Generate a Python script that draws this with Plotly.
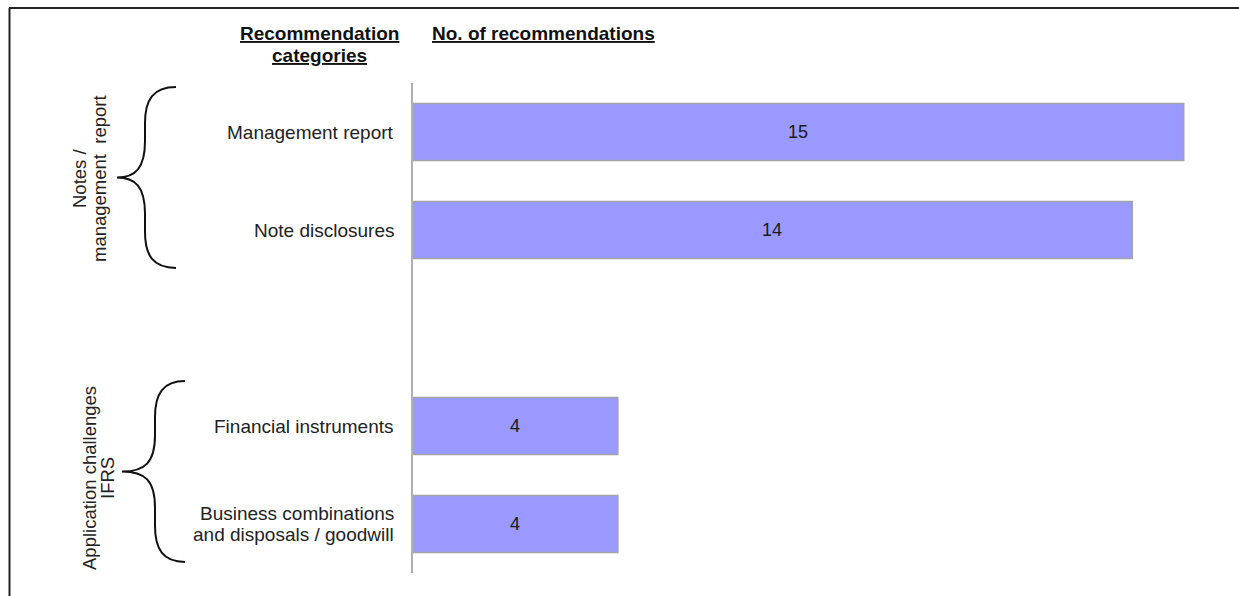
import plotly.graph_objects as go

# Recommendation categories, grouped by topic
group_titles = [["Notes /", "management\u00a0 report"],
                ["Application challenges", "IFRS"]]
group_categories = [
    [["Management report"], ["Note disclosures"]],
    [["Financial instruments"], ["Business combinations", "and disposals / goodwill"]],
]
group_values = [[15, 14], [4, 4]]

W, H = 1239, 596
FONT = "Liberation Sans, Arial, sans-serif"
BAR_FILL = "#9999FF"
BAR_EDGE = "#A3A3A3"
TEXT = "#222222"


def px(x):
    return x / W


def py(y):
    return 1 - y / H


# one empty slot between the two groups
labels, values, slots, group_slots = [], [], [], []
pos = 0
for cats, vals in zip(group_categories, group_values):
    start = pos
    for c, v in zip(cats, vals):
        labels.append(c)
        values.append(v)
        slots.append(pos)
        pos += 1
    group_slots.append((start, pos - 1))
    pos += 1
n_slots = pos - 1

# plot area in pixels
X0, X1 = 412, W
Y0, Y1 = 83, 573
x_max = (X1 - X0) / 51.45

fig = go.Figure(go.Bar(
    x=values, y=slots, orientation="h", width=0.58,
    marker=dict(color=BAR_FILL, line=dict(color=BAR_EDGE, width=1.5)),
    hoverinfo="skip",
))

slot_px = (Y1 - Y0) / n_slots


def slot_to_py(s):
    return Y0 + (s + 0.5) * slot_px


annotations = []
# value labels centred in each bar
for v, s in zip(values, slots):
    annotations.append(dict(
        text=str(v), x=v / 2, y=s, xref="x", yref="y",
        xanchor="center", yanchor="middle", showarrow=False,
        font=dict(family=FONT, size=18, color="#1a1a1a")))

# category labels, right aligned next to the axis
for lines, s in zip(labels, slots):
    yc = slot_to_py(s)
    n = len(lines)
    for i, line in enumerate(lines):
        yl = yc + (i - (n - 1) / 2) * 20.7
        annotations.append(dict(
            text=line, x=px(396), y=py(yl), xref="paper", yref="paper",
            xanchor="right", yanchor="middle", showarrow=False,
            font=dict(family=FONT, size=19, color=TEXT)))

# column headers
for i, line in enumerate(["Recommendation", "categories"]):
    annotations.append(dict(
        text=f"<b><u>{line}</u></b>", x=px(320), y=py(34 + 21 * i),
        xref="paper", yref="paper", xanchor="center", yanchor="middle",
        showarrow=False, font=dict(family=FONT, size=19, color="#111111")))
annotations.append(dict(
    text="<b><u>No. of recommendations</u></b>", x=px(430), y=py(34),
    xref="paper", yref="paper", xanchor="left", yanchor="middle",
    showarrow=False, font=dict(family=FONT, size=19, color="#111111")))

# group titles (rotated) and braces
brace_geom = [
    dict(x_end=176, x_mid=145, x_tip=117, title_x=(79, 99), title_y=179),
    dict(x_end=185, x_mid=155, x_tip=122, title_x=(89, 107), title_y=478),
]
shapes = []
for (s0, s1), title, g in zip(group_slots, group_titles, brace_geom):
    yt = slot_to_py(s0) - 45
    yb = slot_to_py(s1) + 38
    ym = (yt + yb) / 2
    for line, xl in zip(title, g["title_x"]):
        annotations.append(dict(
            text=line, x=px(xl), y=py(g["title_y"]), xref="paper", yref="paper",
            xanchor="center", yanchor="middle", textangle=-90, showarrow=False,
            font=dict(family=FONT, size=18.5, color=TEXT)))
    xe, xm, xt = g["x_end"], g["x_mid"], g["x_tip"]
    h = yb - yt
    pts = [
        ("M", [(xe, yt)]),
        ("C", [(xm + 8, yt), (xm, yt + 0.07 * h), (xm, yt + 0.2 * h)]),
        ("L", [(xm, ym - 0.2 * h)]),
        ("C", [(xm, ym - 0.05 * h), (xm - 10, ym), (xt, ym)]),
        ("C", [(xm - 10, ym), (xm, ym + 0.05 * h), (xm, ym + 0.2 * h)]),
        ("L", [(xm, yb - 0.2 * h)]),
        ("C", [(xm, yb - 0.07 * h), (xm + 8, yb), (xe, yb)]),
    ]
    path = " ".join(
        cmd + " " + " ".join(f"{px(x):.5f},{py(y):.5f}" for x, y in p)
        for cmd, p in pts)
    shapes.append(dict(type="path", path=path, xref="paper", yref="paper",
                       line=dict(color="#111111", width=2)))

# outer frame (top and left edges)
shapes.append(dict(type="line", xref="paper", yref="paper",
                   x0=px(9), x1=1.01, y0=py(8), y1=py(8),
                   line=dict(color="#222222", width=2)))
shapes.append(dict(type="line", xref="paper", yref="paper",
                   x0=px(9.5), x1=px(9.5), y0=py(8), y1=-0.01,
                   line=dict(color="#222222", width=2)))

fig.update_layout(
    width=W, height=H,
    margin=dict(l=0, r=0, t=0, b=0),
    paper_bgcolor="white", plot_bgcolor="white",
    showlegend=False,
    xaxis=dict(domain=[px(X0), px(X1)], range=[0, x_max], visible=False,
               fixedrange=True),
    yaxis=dict(domain=[py(Y1), py(Y0)], range=[n_slots - 0.5, -0.5],
               showticklabels=False, showgrid=False, zeroline=False,
               showline=False, ticks="", fixedrange=True),
    annotations=annotations,
    shapes=shapes,
)
# vertical axis line
fig.add_shape(type="line", xref="paper", yref="paper",
              x0=px(X0), x1=px(X0), y0=py(Y1), y1=py(Y0),
              line=dict(color="#B0B0B0", width=2))

fig.write_html("out.html", config={"displayModeBar": False})
